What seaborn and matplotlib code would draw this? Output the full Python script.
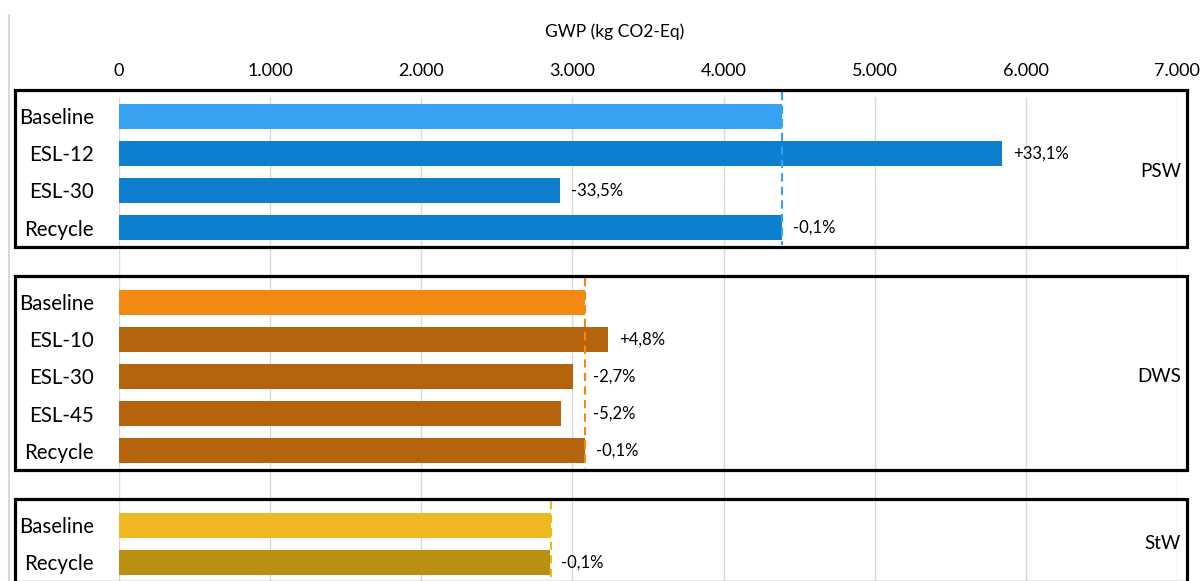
import matplotlib
matplotlib.use("Agg")
import matplotlib.pyplot as plt
import seaborn as sns
import pandas as pd
from matplotlib.patches import Rectangle
from matplotlib.lines import Line2D
from matplotlib.transforms import blended_transform_factory, offset_copy
from matplotlib.ticker import FuncFormatter

# ---- data ----
groups = ["PSW", "DWS", "StW"]
psw_labels = ["Baseline", "ESL-12", "ESL-30", "Recycle"]
psw_values = [4389, 5842, 2919, 4385]
psw_pct = ["", "+33,1%", "-33,5%", "-0,1%"]
dws_labels = ["Baseline", "ESL-10", "ESL-30", "ESL-45", "Recycle"]
dws_values = [3086, 3234, 3003, 2926, 3083]
dws_pct = ["", "+4,8%", "-2,7%", "-5,2%", "-0,1%"]
stw_labels = ["Baseline", "Recycle"]
stw_values = [2857, 2854]
stw_pct = ["", "-0,1%"]
x_ticks = [0, 1000, 2000, 3000, 4000, 5000, 6000, 7000]
x_title = "GWP (kg CO2-Eq)"

# colours: (baseline colour, scenario colour)
group_colors = {
    "PSW": ("#38A2F2", "#0E7ECF"),
    "DWS": ("#F28A12", "#B5640E"),
    "StW": ("#EFB822", "#BB8F12"),
}

group_data = [
    ("PSW", psw_labels, psw_values, psw_pct),
    ("DWS", dws_labels, dws_values, dws_pct),
    ("StW", stw_labels, stw_values, stw_pct),
]

# build long table with unique keys and blank spacer rows
rows = []
order = []
palette = {}
group_rows = {}
for gi, (g, labs, vals, pcts) in enumerate(group_data):
    if gi > 0:
        spacer = f"__gap{gi}"
        order.append(spacer)
        palette[spacer] = "white"
    start = len(order)
    for i, (lab, v, p) in enumerate(zip(labs, vals, pcts)):
        key = f"{g}|{lab}"
        order.append(key)
        palette[key] = group_colors[g][0] if i == 0 else group_colors[g][1]
        rows.append(dict(key=key, value=v, label=lab, pct=p, group=g, base=vals[0]))
    group_rows[g] = (start, len(order) - 1)
df = pd.DataFrame(rows)

# ---- figure ----
sns.set_theme(style="white")
plt.rcParams["font.family"] = ["Lato", "DejaVu Sans"]

W, H = 1203, 581
fig = plt.figure(figsize=(W / 100, H / 100), dpi=100)
ax_left, ax_right = 119 / W, 1177 / W
ax_top, ax_bot = (H - 97.5) / H, 0.0
ax = fig.add_axes([ax_left, ax_bot, ax_right - ax_left, ax_top - ax_bot])

sns.barplot(data=df, y="key", x="value", hue="key", order=order, hue_order=order,
            palette=palette, orient="h", width=0.67, legend=False, ax=ax,
            saturation=1, linewidth=0, zorder=3)

ax.set_xlim(0, 7000)
ax.set_ylim(len(order) - 0.5, -0.5)

# gridlines
ax.set_xticks(x_ticks)
ax.xaxis.grid(True, color="#D9D9D9", linewidth=1.0, zorder=0)
ax.yaxis.grid(False)
ax.set_axisbelow(True)
ax.xaxis.tick_top()
ax.xaxis.set_label_position("top")
ax.xaxis.set_major_formatter(FuncFormatter(lambda v, p: f"{v:,.0f}".replace(",", ".")))
ax.tick_params(axis="x", length=0, pad=13, labelsize=13, colors="black")
ax.set_xlabel("")

# y tick labels
ytick_pos = [order.index(k) for k in df["key"]]
ax.set_yticks(ytick_pos)
ax.set_yticklabels(df["label"].tolist(), fontsize=14.8, color="black")
ax.tick_params(axis="y", length=0, pad=18)
ax.set_ylabel("")

for s in ax.spines.values():
    s.set_visible(False)

# percentage labels (pushed past the dashed baseline when the bar ends just short of it)
for _, r in df.iterrows():
    if r["pct"]:
        y = order.index(r["key"])
        xv = r["value"]
        off = 11
        if r["base"] * 0.9 < xv < r["base"] - 5:
            xv = r["base"]
            off = 8
        tr = offset_copy(ax.transData, fig=fig, x=off, y=0, units="dots")
        ax.text(xv, y, r["pct"], transform=tr, ha="left", va="center",
                fontsize=12, color="black", zorder=5)

# boxes, dashed baseline lines, group labels
blend = blended_transform_factory(fig.transFigure, ax.transData)
box_x0, box_x1 = 15 / W, 1187 / W
for g, labs, vals, pcts in group_data:
    first, last = group_rows[g]
    top, bot = first - 0.70, last + 0.52
    rect = Rectangle((box_x0, top), box_x1 - box_x0, bot - top, transform=blend,
                     fill=False, edgecolor="black", linewidth=2.3, clip_on=False, zorder=6)
    fig.add_artist(rect)
    ax.plot([vals[0], vals[0]], [top + 0.05, bot - 0.05], linestyle=(0, (4, 2.5)),
            color=group_colors[g][0], linewidth=1.5, zorder=4, clip_on=False)
    ax.text(1181 / W, (first + last) / 2, g, transform=blend, ha="right", va="center",
            fontsize=13.5, color="black")

# axis title
fig.text(615 / W, (H - 32) / H, x_title, ha="center", va="center", fontsize=12.5, color="black")

# left light gray border line
fig.add_artist(Line2D([9 / W, 9 / W], [0, (H - 15) / H], transform=fig.transFigure,
                      color="#D9D9D9", linewidth=1.5))

fig.savefig("out.png", dpi=100)
